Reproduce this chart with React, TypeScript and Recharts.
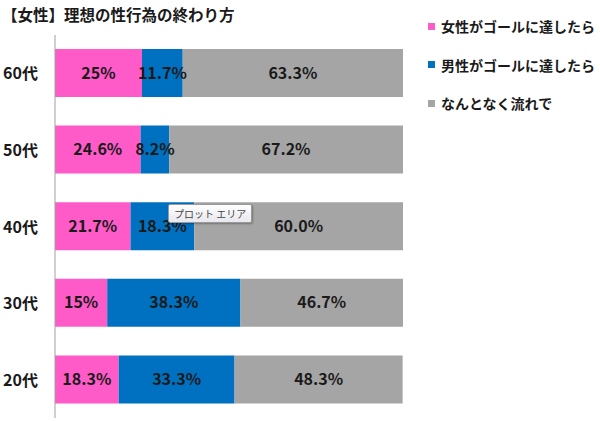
import { BarChart, Bar, XAxis, YAxis, LabelList } from 'recharts'

const ages = ['60代', '50代', '40代', '30代', '20代']
const womanGoal = [25, 24.6, 21.7, 15, 18.3]
const manGoal = [11.7, 8.2, 18.3, 38.3, 33.3]
const naturally = [63.3, 67.2, 60.0, 46.7, 48.3]

const seriesNames = ['女性がゴールに達したら', '男性がゴールに達したら', 'なんとなく流れで']
const colors = ['#FF5BC8', '#0070C0', '#A5A5A5']

const data = ages.map((age, i) => ({
  age,
  woman: womanGoal[i],
  man: manGoal[i],
  flow: naturally[i],
}))

const FONT = '"Noto Sans CJK JP", "Noto Sans", sans-serif'

const fmt = (v: number) => (Number.isInteger(v) && v !== 60 ? `${v}%` : `${v.toFixed(1)}%`)

function AgeTick({ y, payload }: any) {
  return (
    <text x={3} y={y} dy={6} textAnchor="start" fontSize={16} fontWeight={700} fill="#1a1a1a" fontFamily={FONT}>
      {payload.value}
    </text>
  )
}

export default function App() {
  return (
    <div style={{ position: 'absolute', left: 0, top: 0, width: 600, height: 421, background: '#fff', fontFamily: FONT }}>
      <div style={{ position: 'absolute', left: 2, top: 3, fontSize: 15.5, fontWeight: 700, color: '#1a1a1a', whiteSpace: 'nowrap' }}>
        【女性】理想の性行為の終わり方
      </div>
      <BarChart
        width={600}
        height={421}
        data={data}
        layout="vertical"
        margin={{ top: 35, right: 197, left: 0, bottom: 3 }}
        barSize={48}
      >
        <XAxis type="number" domain={[0, 100]} hide />
        <YAxis
          type="category"
          dataKey="age"
          width={55}
          axisLine={{ stroke: '#A0A0A0' }}
          tickLine={false}
          tick={<AgeTick />}
        />
        {['woman', 'man', 'flow'].map((key, i) => (
          <Bar key={key} dataKey={key} stackId="a" fill={colors[i]} isAnimationActive={false}>
            <LabelList
              dataKey={key}
              position="center"
              formatter={(v: any) => fmt(Number(v))}
              style={{ fontSize: 16, fontWeight: 700, fill: '#1a1a1a', fontFamily: FONT }}
            />
          </Bar>
        ))}
      </BarChart>
      {seriesNames.map((name, i) => (
        <div
          key={name}
          style={{ position: 'absolute', left: 428, top: 16 + i * 38.5, display: 'flex', alignItems: 'center', fontSize: 14, fontWeight: 700, color: '#1a1a1a', whiteSpace: 'nowrap' }}
        >
          <span style={{ width: 7, height: 7, background: colors[i], marginRight: 6, display: 'inline-block' }} />
          {name}
        </div>
      ))}
      <div
        style={{
          position: 'absolute', left: 168, top: 204, padding: '1px 5px', fontSize: 10, color: '#444',
          border: '1px solid #9a9a9a', borderRadius: 2, background: 'linear-gradient(#ffffff, #e8e8ee)',
          boxShadow: '1px 1px 2px rgba(0,0,0,0.3)', whiteSpace: 'nowrap',
        }}
      >
        プロット エリア
      </div>
    </div>
  )
}
